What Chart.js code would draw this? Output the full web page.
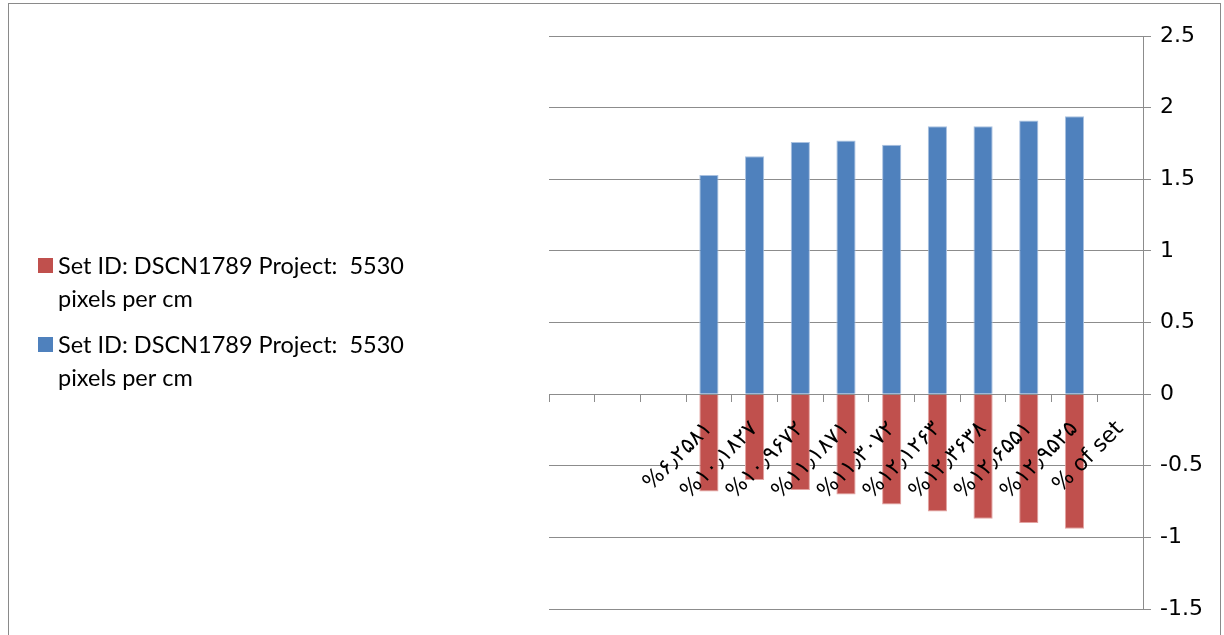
<!DOCTYPE html>
<html>
<head>
<meta charset="utf-8">
<script src="https://cdn.jsdelivr.net/npm/chart.js@4.4.1/dist/chart.umd.min.js"></script>
<style>
  html, body { margin: 0; padding: 0; background: #fff; }
  #wrap { position: relative; width: 1224px; height: 635px; overflow: hidden; }
  #frame { position: absolute; left: 8px; top: 3px; width: 1211px; height: 700px; border: 1px solid #8a8a8a; }
  #chart { position: absolute; left: 0; top: 0; }
</style>
</head>
<body>
<div id="wrap">
  <div id="frame"></div>
  <canvas id="chart" width="1224" height="635"></canvas>
</div>
<script>
// series name shared by both data sets
const seriesName = 'Set ID: DSCN1789 Project:  5530 pixels per cm';

// category labels (first three slots are blank)
const categories = [
  '', '', '',
  '%۶٫۲۵۸۱', '%۱۰٫۱۸۲۷', '%۱۰٫۹۶۷۲', '%۱۱٫۱۸۷۱', '%۱۱٫۳۰۷۲',
  '%۱۲٫۱۲۶۳', '%۱۲٫۳۶۳۸', '%۱۲٫۶۵۵۱', '%۱۲٫۹۵۲۵', '% of set'
];

const blueValues = [null, null, null, 1.53, 1.66, 1.76, 1.77, 1.74, 1.87, 1.87, 1.91, 1.94, null];
const redValues = [null, null, null, -0.68, -0.60, -0.67, -0.70, -0.77, -0.82, -0.87, -0.90, -0.94, null];

const yMin = -1.5;
const yMax = 2.5;
const yStep = 0.5;

const gridGray = '#8c8c8c';
const tickFont = '"DejaVu Sans", Verdana, sans-serif';

// legend on the left, text wrapped like the office chart legend
const sideLegend = {
  id: 'sideLegend',
  afterDraw(chart) {
    const ctx = chart.ctx;
    const boxX = 38, textX = 58, maxW = 380, lineH = 33;
    const tops = [258, 337];
    ctx.save();
    ctx.font = '23.5px Lato, "Noto Sans", sans-serif';
    ctx.textBaseline = 'middle';
    ctx.textAlign = 'left';
    chart.data.datasets.forEach((ds, i) => {
      const top = tops[i];
      ctx.fillStyle = ds.backgroundColor;
      ctx.fillRect(boxX, top, 15, 15);
      // simple word wrap that keeps double spaces
      const words = ds.label.split(' ');
      const lines = [];
      let cur = '';
      words.forEach((w, k) => {
        const test = k === 0 ? w : cur + ' ' + w;
        if (ctx.measureText(test).width > maxW && cur.trim() !== '') {
          lines.push(cur);
          cur = w;
        } else {
          cur = test;
        }
      });
      lines.push(cur);
      ctx.fillStyle = '#000';
      lines.forEach((ln, j) => ctx.fillText(ln, textX, top + 8 + j * lineH));
    });
    ctx.restore();
  }
};

new Chart(document.getElementById('chart'), {
  type: 'bar',
  data: {
    labels: categories,
    datasets: [
      {
        label: seriesName,
        data: redValues,
        backgroundColor: '#C0504D',
        borderColor: '#E3A3A1',
        borderWidth: 1,
        barPercentage: 0.42,
        categoryPercentage: 1
      },
      {
        label: seriesName,
        data: blueValues,
        backgroundColor: '#4F81BD',
        borderColor: '#A9C1E0',
        borderWidth: 1,
        barPercentage: 0.42,
        categoryPercentage: 1
      }
    ]
  },
  options: {
    responsive: false,
    animation: false,
    layout: { padding: { left: 549, right: 0, top: 36, bottom: 26 } },
    plugins: {
      legend: { display: false },
      tooltip: { enabled: false }
    },
    scales: {
      x: {
        stacked: true,
        position: { y: 0 },
        offset: true,
        grid: {
          offset: true,
          drawOnChartArea: false,
          tickLength: 8,
          color: gridGray
        },
        border: { display: false },
        ticks: {
          // category labels sit on top of the bars
          z: 1,
          autoSkip: false,
          minRotation: 45,
          maxRotation: 45,
          padding: 14,
          color: '#000',
          font: { family: tickFont, size: 22 }
        }
      },
      y: {
        stacked: true,
        position: 'right',
        min: yMin,
        max: yMax,
        afterFit(scale) { scale.width = 81; },
        grid: {
          color: gridGray,
          tickLength: 8
        },
        border: { color: gridGray, width: 1 },
        ticks: {
          stepSize: yStep,
          padding: 9,
          color: '#000',
          font: { family: tickFont, size: 22 },
          callback: v => String(v)
        }
      }
    }
  },
  plugins: [sideLegend]
});
</script>
</body>
</html>
